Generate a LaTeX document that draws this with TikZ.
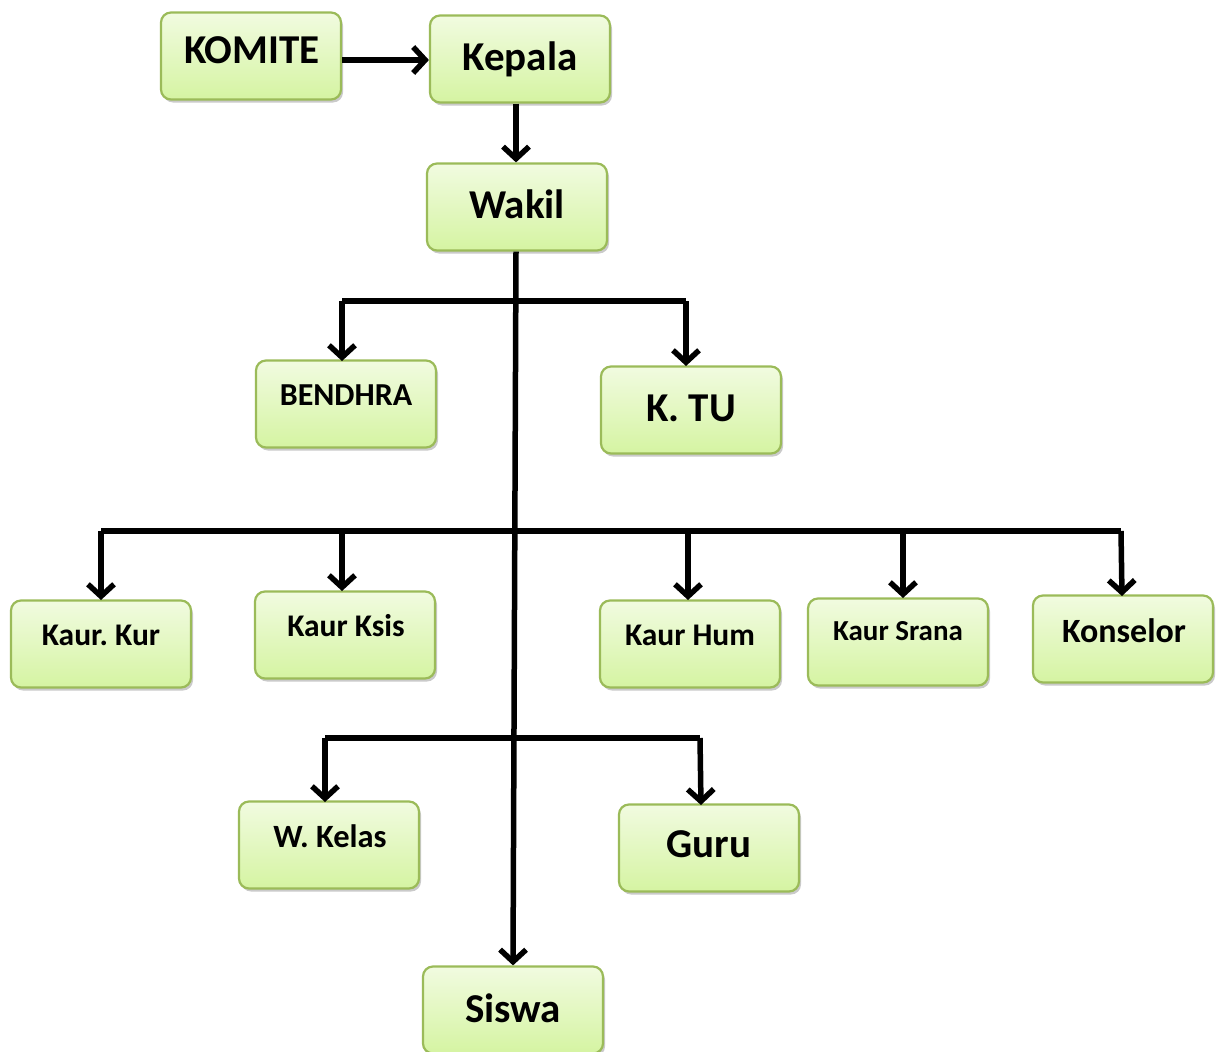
\documentclass[tikz,border=0pt]{standalone}
\usepackage{fontspec}
\setmainfont{Carlito}
\usetikzlibrary{arrows.meta,shadows}
\definecolor{boxtop}{HTML}{F1FBE0}
\definecolor{boxbot}{HTML}{D5F4A2}
\definecolor{boxline}{HTML}{9BBB59}
\frenchspacing
\tikzset{
  orgbox/.style={draw=boxline, line width=2.2pt, rounded corners=10pt,
    top color=boxtop, bottom color=boxbot, minimum width=180pt, minimum height=87pt,
    inner sep=0pt, drop shadow={shadow xshift=2pt, shadow yshift=-3pt, opacity=0.35, fill=black!60}},
  lbl/.style={anchor=base, font=\bfseries, inner sep=0pt},
  big/.style={lbl, font=\bfseries\fontsize{41}{44}\selectfont},
  mid/.style={lbl, font=\bfseries\fontsize{31.5}{34}\selectfont},
  sml/.style={lbl, font=\bfseries\fontsize{29}{32}\selectfont},
  conn/.style={line width=5.5pt, draw=black},
  arr/.style={conn, -{Straight Barb[length=12pt,width=26pt,line width=5.5pt]}},
}
\begin{document}
\begin{tikzpicture}[x=1pt,y=-1pt]
\useasboundingbox (0,0) rectangle (1221,1052);
% boxes
\node[orgbox] (komite) at (251,56) {};
\node[orgbox] (kepala) at (520,59) {};
\node[orgbox] (wakil) at (517,207) {};
\node[orgbox] (bendhra) at (346,404) {};
\node[orgbox] (ktu) at (691,410) {};
\node[orgbox] (kaurkur) at (101,644) {};
\node[orgbox] (kaurksis) at (345,635) {};
\node[orgbox] (kaurhum) at (690,644) {};
\node[orgbox] (kaursrana) at (898,642) {};
\node[orgbox] (konselor) at (1123,639) {};
\node[orgbox] (wkelas) at (329,845) {};
\node[orgbox] (guru) at (709,848) {};
\node[orgbox] (siswa) at (513,1010) {};
% labels
\node[big] (tkomite) at (252,63) {KOMITE};
\node[big] (tkepala) at (520,70) {Kepala};
\node[big] (twakil) at (517,218) {Wakil};
\node[lbl, font=\bfseries\fontsize{32}{34}\selectfont] (tbendhra) at (346,405) {BENDHRA};
\node[big] (tktu) at (691,421) {K. TU};
\node[mid] (tkaurkur) at (101,645) {Kaur. Kur};
\node[mid] (tkaurksis) at (346,636) {Kaur Ksis};
\node[mid] (tkaurhum) at (690,645) {Kaur Hum};
\node[sml] (tkaursrana) at (898,640) {Kaur Srana};
\node[lbl, font=\bfseries\fontsize{34}{36}\selectfont] (tkonselor) at (1124,642) {Konselor};
\node[lbl, font=\bfseries\fontsize{32.5}{35}\selectfont] (twkelas) at (330,847) {W. Kelas};
\node[big] (tguru) at (709,857) {Guru};
\node[big] (tsiswa) at (513,1022) {Siswa};
% connectors
\draw[arr] ([yshift=-4pt]komite.east) -- ([yshift=-1pt]kepala.west);
\draw[arr] ([xshift=-4pt]kepala.south) -- ([xshift=-1pt]wakil.north);
\draw[arr] ([xshift=-1pt]wakil.south) -- (siswa.north);
\draw[conn] (342,301) -- (686,301);
\draw[arr] (342,301) -- (342,361);
\draw[arr] (686,301) -- (686,366);
\draw[conn] (101,531) -- (1121,531);
\draw[arr] (101,531) -- (101,600);
\draw[arr] (342,529) -- (342,591);
\draw[arr] (688,531) -- (688,600);
\draw[arr] (903,531) -- (903,598);
\draw[arr] (1121,531) -- (1122,596);
\draw[conn] (325,738) -- (700,738);
\draw[arr] (325,738) -- (325,802);
\draw[arr] (700,738) -- (701,805);
\end{tikzpicture}
\end{document}
